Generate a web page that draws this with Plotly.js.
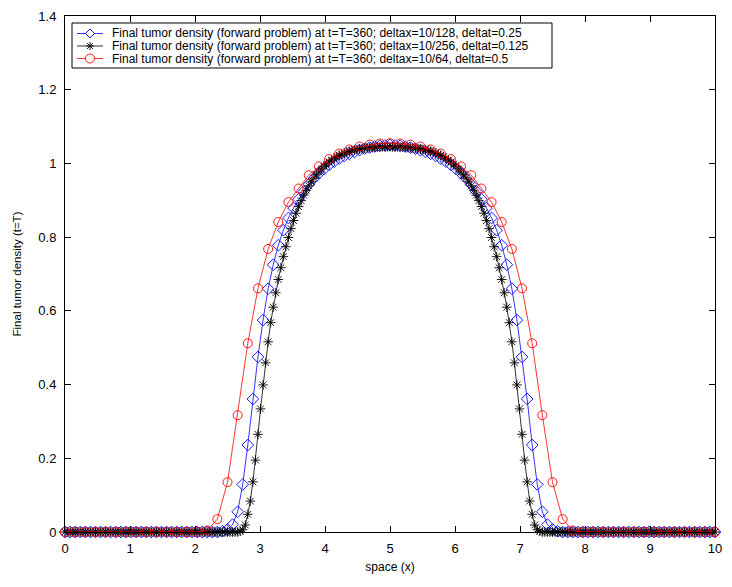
<!DOCTYPE html>
<html>
<head>
<meta charset="utf-8">
<script src="https://cdn.plot.ly/plotly-3.0.1.min.js"></script>
<style>html,body{margin:0;padding:0;background:#fff}#chart{width:732px;height:587px}</style>
</head>
<body>
<div id="chart"></div>
<script>
// ---- data ----
const domainLength = 10;
const redDivisions = 64;     // deltax = 10/64
const blueDivisions = 128;   // deltax = 10/128
const blackDivisions = 256;  // deltax = 10/256

const redDensity = [
0,0,0,0,0,0,0,0,0,0,0,0,0,0,
0.004,0.035,0.135,0.317,0.512,0.661,0.768,0.841,0.895,0.932,0.968,0.992,1.012,1.027,1.038,1.046,1.051,1.054,1.055,
1.054,1.051,1.046,1.038,1.027,1.012,0.992,0.968,0.932,0.895,0.841,0.768,0.661,0.512,0.317,0.135,0.035,0.004,
0,0,0,0,0,0,0,0,0,0,0,0,0,0
];

const blueDensity = [
0,0,0,0,0,0,0,0,0,0,0,0,0,0,0,0,0,0,0,0,0,0,0,0,0,0,0,0,0,0,0,
0.002,0.007,0.02,0.055,0.129,0.236,0.361,0.475,0.575,0.66,0.725,0.778,0.819,0.852,0.879,0.903,0.924,0.943,0.959,0.973,0.985,0.996,1.005,1.013,1.02,1.026,1.031,1.036,1.04,1.043,1.046,1.048,1.049,1.05,
1.049,1.048,1.046,1.043,1.04,1.036,1.031,1.026,1.02,1.013,1.005,0.996,0.985,0.973,0.959,0.943,0.924,0.903,0.879,0.852,0.819,0.778,0.725,0.66,0.575,0.475,0.361,0.236,0.129,0.055,0.02,0.007,0.002,
0,0,0,0,0,0,0,0,0,0,0,0,0,0,0,0,0,0,0,0,0,0,0,0,0,0,0,0,0,0,0
];

const blackDensity = [
0,0,0,0,0,0,0,0,0,0,0,0,0,0,0,0,0,0,0,0,0,0,0,0,0,0,0,0,0,0,
0,0,0,0,0,0,0,0,0,0,0,0,0,0,0,0,0,0,0,0,0,0,0,0,0,0,0,0,0,0,
0,0,0,0,0,0,0,0,0,
0.002,0.006,0.019,0.048,0.084,0.136,0.195,0.265,0.334,0.399,0.459,0.516,0.568,0.61,0.649,0.685,0.717,0.747,0.774,0.799,
0.823,0.845,0.865,0.883,0.899,0.914,0.927,0.939,0.95,0.96,0.969,0.977,0.985,0.992,0.998,1.004,1.009,1.014,1.018,1.022,
1.025,1.028,1.031,1.033,1.035,1.037,1.038,1.039,1.04,1.041,1.042,1.043,1.043,1.044,1.044,1.045,1.045,1.045,1.045,1.045,
1.045,1.045,1.045,1.045,1.044,1.044,1.043,1.043,1.042,1.041,1.04,1.039,1.038,1.037,1.035,1.033,1.031,1.028,1.025,1.022,
1.018,1.014,1.009,1.004,0.998,0.992,0.985,0.977,0.969,0.96,0.95,0.939,0.927,0.914,0.899,0.883,0.865,0.845,0.823,0.799,
0.774,0.747,0.717,0.685,0.649,0.61,0.568,0.516,0.459,0.399,0.334,0.265,0.195,0.136,0.084,0.048,0.019,0.006,0.002,
0,0,0,0,0,0,0,0,0,0,0,0,0,0,0,0,0,0,0,0,0,0,0,0,0,0,0,0,0,0,
0,0,0,0,0,0,0,0,0,0,0,0,0,0,0,0,0,0,0,0,0,0,0,0,0,0,0,0,0,0,
0,0,0,0,0,0,0,0,0
];

const seriesLabels = [
  "Final tumor density (forward problem) at t=T=360; deltax=10/128, deltat=0.25",
  "Final tumor density (forward problem) at t=T=360; deltax=10/256, deltat=0.125",
  "Final tumor density (forward problem) at t=T=360; deltax=10/64, deltat=0.5"
];
const xTickValues = [0,1,2,3,4,5,6,7,8,9,10];
const yTickValues = [0,0.2,0.4,0.6,0.8,1,1.2,1.4];
const xAxisLabel = "space (x)";
const yAxisLabel = "Final tumor density (t=T)";

// ---- build ----
function gridPoints(n){ const a=[]; for(let i=0;i<=n;i++) a.push(i*domainLength/n); return a; }

const FONT = "Liberation Sans, Arial, Helvetica, sans-serif";
const BLUE = "#0000ff", BLACK = "#000000", RED = "#ff0000";

const traces = [
  {x: gridPoints(blueDivisions), y: blueDensity, type:"scatter", mode:"lines+markers", cliponaxis:false,
   line:{color:BLUE, width:0.8}, marker:{symbol:"diamond-open", size:9, color:BLUE, line:{color:BLUE, width:0.9}}},
  {x: gridPoints(blackDivisions), y: blackDensity, type:"scatter", mode:"lines+markers", cliponaxis:false,
   line:{color:BLACK, width:0.8}, marker:{symbol:"asterisk-open", size:8, color:BLACK, line:{color:BLACK, width:0.9}}},
  {x: gridPoints(redDivisions), y: redDensity, type:"scatter", mode:"lines+markers", cliponaxis:false,
   line:{color:RED, width:0.8}, marker:{symbol:"circle-open", size:9, color:RED, line:{color:RED, width:0.9}}}
];

// plot area in pixels
const L=65, T=16, W=650, H=516, B=T+H;
const px = v => (v-L)/W;
const py = v => (B-v)/H;

// custom legend (MATLAB-like compact box)
const legBox = {x0:72, x1:552, y0:23, y1:68};
const rowY = [33.5, 46, 58.5];
const sampleX0 = 77, sampleX1 = 103, markX = 90, textX = 110;
const colors = [BLUE, BLACK, RED];

const shapes = [{type:"rect", xref:"paper", yref:"paper", x0:px(legBox.x0), x1:px(legBox.x1), y0:py(legBox.y1), y1:py(legBox.y0),
  line:{color:"#000", width:1}, fillcolor:"#fff", layer:"above"}];
const annotations = [];
rowY.forEach((ry,k)=>{
  shapes.push({type:"line", xref:"paper", yref:"paper", x0:px(sampleX0), x1:px(sampleX1), y0:py(ry), y1:py(ry), line:{color:colors[k], width:0.8}, layer:"above"});
  const r = 4.5;
  if(k===0){
    shapes.push({type:"path", xref:"paper", yref:"paper", layer:"above", fillcolor:"#fff",
      path:`M ${px(markX-r)} ${py(ry)} L ${px(markX)} ${py(ry-r)} L ${px(markX+r)} ${py(ry)} L ${px(markX)} ${py(ry+r)} Z`, line:{color:BLUE, width:0.9}});
  } else if(k===1){
    const a=4, d=2.9;
    shapes.push({type:"path", xref:"paper", yref:"paper", layer:"above",
      path:`M ${px(markX-a)} ${py(ry)} L ${px(markX+a)} ${py(ry)} M ${px(markX)} ${py(ry-a)} L ${px(markX)} ${py(ry+a)} M ${px(markX-d)} ${py(ry-d)} L ${px(markX+d)} ${py(ry+d)} M ${px(markX-d)} ${py(ry+d)} L ${px(markX+d)} ${py(ry-d)}`,
      line:{color:BLACK, width:0.9}});
  } else {
    shapes.push({type:"circle", xref:"paper", yref:"paper", layer:"above", fillcolor:"#fff",
      x0:px(markX-r), x1:px(markX+r), y0:py(ry+r), y1:py(ry-r), line:{color:RED, width:0.9}});
  }
  annotations.push({xref:"paper", yref:"paper", x:px(textX), y:py(ry), xanchor:"left", yanchor:"middle",
    text:seriesLabels[k], showarrow:false, font:{family:FONT, size:12, color:"#000"}});
});

const axisCommon = {
  showline:true, linecolor:"#000", linewidth:1, mirror:"allticks",
  ticks:"inside", ticklen:6, tickwidth:1, tickcolor:"#000",
  showgrid:false, zeroline:false, tickfont:{family:FONT, size:13, color:"#000"}
};

const layout = {
  width:732, height:587,
  margin:{l:L, r:732-L-W, t:T, b:587-B},
  paper_bgcolor:"#fff", plot_bgcolor:"#fff",
  showlegend:false,
  font:{family:FONT, color:"#000"},
  xaxis: Object.assign({}, axisCommon, {range:[0,10], tickmode:"array", tickvals:xTickValues,
    ticktext:xTickValues.map(String), ticklabelstandoff:4,
    title:{text:xAxisLabel, font:{family:FONT, size:12, color:"#000"}, standoff:8}}),
  yaxis: Object.assign({}, axisCommon, {range:[0,1.4], tickmode:"array", tickvals:yTickValues,
    ticktext:yTickValues.map(v=>String(Math.round(v*10)/10)), ticklabelstandoff:5,
    title:{text:yAxisLabel, font:{family:FONT, size:11.5, color:"#000"}, standoff:14}}),
  shapes: shapes,
  annotations: annotations
};

Plotly.newPlot("chart", traces, layout, {displayModeBar:false, staticPlot:true});
</script>
</body>
</html>
